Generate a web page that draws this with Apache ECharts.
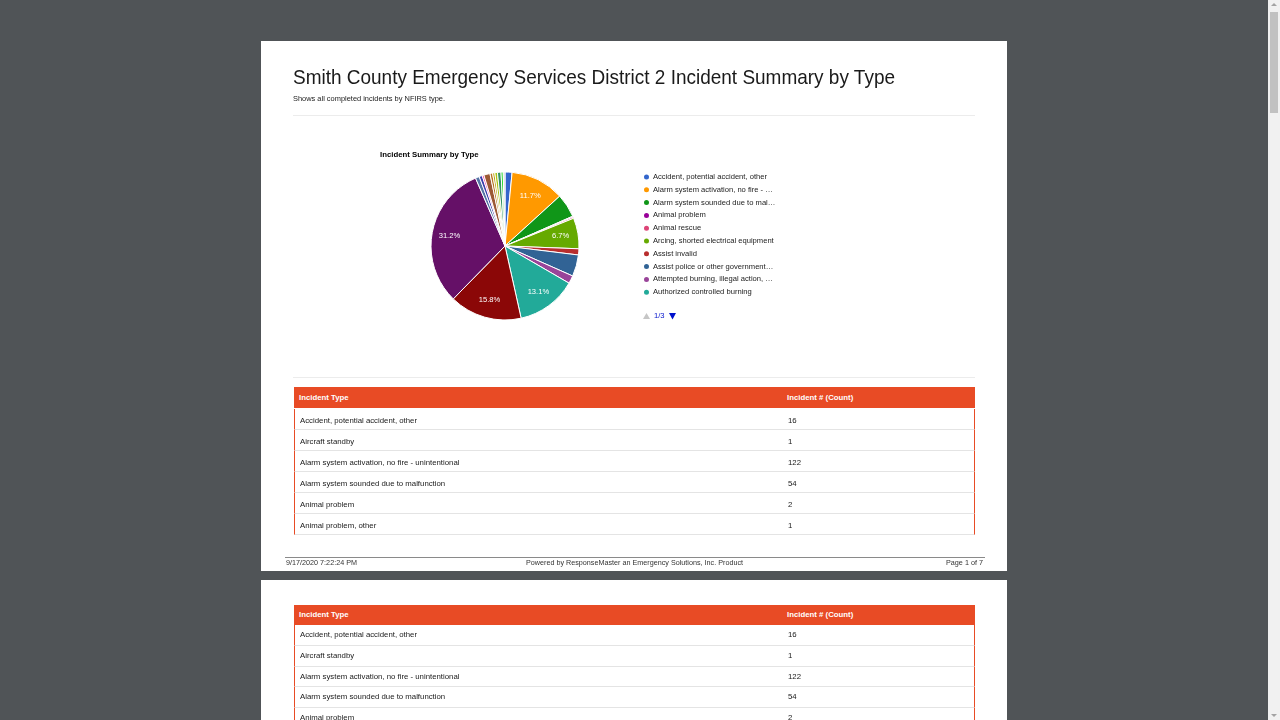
<!DOCTYPE html>
<html><head><meta charset="utf-8">
<script src="https://cdn.jsdelivr.net/npm/echarts@6/dist/echarts.min.js"></script>
<style>
html,body{margin:0;padding:0;width:1280px;height:720px;overflow:hidden;background:#505457;font-family:"Liberation Sans",Arial,Helvetica,sans-serif;}
.abs{position:absolute;white-space:nowrap;}
.page{position:absolute;left:261px;width:746px;background:#fff;overflow:hidden;}
.fit{transform-origin:0 50%;display:inline-block;filter:grayscale(1);}
.tbl{position:absolute;left:33px;width:681px;}
.thead{position:absolute;left:0;width:681px;background:#e84b25;color:#fff;font-weight:bold;font-size:7.8px;}
.trow{position:absolute;left:0;width:679px;border-left:1px solid #e84b25;border-right:1px solid #e84b25;border-bottom:1px solid #e4e4e4;color:#1a1a1a;font-size:7.8px;box-sizing:content-box;}
.trow span{filter:grayscale(1);}
.c1{position:absolute;left:5px;}
.c2{position:absolute;left:493px;}
</style>
</head>
<body>
<script>
// ---- data ----
const chartTitle = 'Incident Summary by Type';
const sliceNames = [
  'Accident, potential accident, other',
  'Alarm system activation, no fire - unintentional',
  'Alarm system sounded due to malfunction',
  'Animal problem',
  'Animal rescue',
  'Arcing, shorted electrical equipment',
  'Assist invalid',
  'Assist police or other governmental agency',
  'Attempted burning, illegal action, other',
  'Authorized controlled burning',
  'Dispatched & cancelled en route',
  'EMS call, excluding vehicle accident with injury',
  'Extrication of victim(s) from vehicle',
  'False alarm or false call, other',
  'Gas leak (natural gas or LPG)',
  'Good intent call, other',
  'Grass fire',
  'Hazardous condition, other',
  'Medical assist, assist EMS crew',
  'Motor vehicle accident with injuries',
  'Motor vehicle accident with no injuries',
  'Other'
];
const sliceCounts = [16, 122, 54, 2, 3, 70, 14, 49, 18, 137, 165, 325, 9, 7, 4, 14, 6, 5, 6, 8, 5, 4];
const sliceColors = ['#3366cc','#ff9900','#109618','#990099','#dd4477','#66aa00','#b82e2e','#316395','#994499','#22aa99',
  '#8b0707','#651067','#5574a6','#3b3eac','#f4359e','#9c5935','#b77322','#bea413','#a9c413','#329262','#16d620','#cccccc'];
const legendPageSize = 10;
const tableHeaders = ['Incident Type', 'Incident # (Count)'];
const tableTypes = ['Accident, potential accident, other','Aircraft standby','Alarm system activation, no fire - unintentional',
  'Alarm system sounded due to malfunction','Animal problem','Animal problem, other'];
const tableCounts = [16, 1, 122, 54, 2, 1];
</script>

<!-- page 1 -->
<div class="page" id="p1" style="top:41px;height:530px;">
  <div class="abs" style="left:32px;top:24px;font-size:21px;line-height:24px;color:#1a1a1a;"><span class="fit" data-w="602">Smith County Emergency Services District 2 Incident Summary by Type</span></div>
  <div class="abs" style="left:32px;top:53px;font-size:7.5px;line-height:9px;color:#222;"><span class="fit" data-w="152">Shows all completed incidents by NFIRS type.</span></div>
  <div class="abs" style="left:32px;top:74px;width:682px;height:1px;background:#ececec;"></div>
  <div id="chart" class="abs" style="left:0;top:80px;width:746px;height:254px;"></div>
  <div class="abs" style="left:32px;top:336px;width:682px;height:1px;background:#ececec;"></div>
  <div id="t1wrap" class="abs" style="left:0;top:0;width:746px;height:494px;overflow:hidden;"></div>
  <div class="abs" style="left:24px;top:516px;width:700px;height:1px;background:#8a8a8a;"></div>
  <div class="abs" style="left:25px;top:517px;font-size:7.5px;line-height:9px;color:#333;"><span class="fit" data-w="71">9/17/2020 7:22:24 PM</span></div>
  <div class="abs" style="left:265px;top:517px;font-size:7.5px;line-height:9px;color:#333;"><span class="fit" data-w="217">Powered by ResponseMaster an Emergency Solutions, Inc. Product</span></div>
  <div class="abs" style="left:685px;top:517px;font-size:7.5px;line-height:9px;color:#333;"><span class="fit" data-w="37">Page 1 of 7</span></div>
</div>
<!-- page 2 -->
<div class="page" id="p2" style="top:580px;height:140px;"></div>

<!-- scrollbar -->
<div class="abs" style="left:1268px;top:0;width:12px;height:720px;background:#f1f1f1;"></div>
<div class="abs" style="left:1270px;top:12px;width:8px;height:101px;background:#c1c1c1;"></div>
<div class="abs" style="left:1271px;top:3px;width:0;height:0;border-left:3px solid transparent;border-right:3px solid transparent;border-bottom:3px solid #a3a3a3;"></div>
<div class="abs" style="left:1271px;top:714px;width:0;height:0;border-left:3px solid transparent;border-right:3px solid transparent;border-top:3px solid #a3a3a3;"></div>

<script>
// tables
function buildTable(container, top, headH, gap, rowH, textDy) {
  const t = document.createElement('div');
  t.className = 'tbl';
  t.style.top = top + 'px';
  let html = '<div class="thead" style="top:0;height:' + headH + 'px;line-height:' + headH + 'px;"><span class="c1">' + tableHeaders[0] + '</span><span class="c2">' + tableHeaders[1] + '</span></div>';
  for (let i = 0; i < tableTypes.length; i++) {
    html += '<div class="trow" style="top:' + (headH + gap + i * rowH) + 'px;height:' + (rowH - 1) + 'px;line-height:' + (rowH - 1) + 'px;">' +
      '<span class="c1" style="top:' + textDy + 'px">' + tableTypes[i] + '</span><span class="c2" style="top:' + textDy + 'px">' + tableCounts[i] + '</span></div>';
  }
  t.innerHTML = html;
  container.appendChild(t);
}
buildTable(document.getElementById('t1wrap'), 346, 21, 1, 21, 1.5);
buildTable(document.getElementById('p2'), 25, 20, 0, 20.75, 0);

// fit text widths
document.querySelectorAll('.fit').forEach(function (el) {
  const w = el.getBoundingClientRect().width;
  const target = parseFloat(el.getAttribute('data-w'));
  if (w > 0) el.style.transform = 'scaleX(' + (target / w) + ')';
});

// chart
const chart = echarts.init(document.getElementById('chart'));
const total = sliceCounts.reduce(function (a, b) { return a + b; }, 0);
const pieData = sliceNames.map(function (n, i) {
  return { name: n, value: sliceCounts[i], itemStyle: { color: sliceColors[i] } };
});
const labelData = sliceNames.map(function (n, i) {
  return { name: n, value: sliceCounts[i] };
});
const pageCount = Math.ceil(sliceNames.length / legendPageSize);
const FONT = '"Liberation Sans", Arial, sans-serif';
chart.setOption({
  animation: false,
  title: {
    text: chartTitle, left: 114, top: 25,
    textStyle: { fontSize: 7.8, fontWeight: 'bold', color: '#000', fontFamily: FONT }
  },
  legend: {
    type: 'plain', orient: 'vertical', left: 376, top: 46,
    icon: 'circle', itemWidth: 7, itemHeight: 7, itemGap: 2.8,
    data: sliceNames.slice(0, legendPageSize),
    textStyle: { fontSize: 7.6, color: '#222', lineHeight: 10, fontFamily: FONT, width: 124, overflow: 'truncate', ellipsis: '…', padding: [0, 0, 0, -2] },
    selectedMode: false
  },
  graphic: [
    { type: 'polygon', silent: true, shape: { points: [[382, 198], [389, 198], [385.5, 192]] }, style: { fill: '#c6c6c6' } },
    { type: 'text', silent: true, x: 393, y: 195, style: { text: '1/' + pageCount, fill: '#0011cc', fontSize: 7.6, fontFamily: FONT, verticalAlign: 'middle' } },
    { type: 'polygon', silent: true, shape: { points: [[408, 192], [415, 192], [411.5, 198.5]] }, style: { fill: '#0011cc' } }
  ],
  series: [
    {
      type: 'pie', radius: [0, 74], center: [244, 125], startAngle: 90, clockwise: true,
      data: pieData, label: { show: false }, labelLine: { show: false },
      itemStyle: { borderColor: '#ffffff', borderWidth: 1 },
      emphasis: { disabled: true }, silent: true
    },
    {
      type: 'pie', radius: [33, 74], center: [244, 125], startAngle: 90, clockwise: true,
      data: labelData, silent: true, legendHoverLink: false,
      itemStyle: { color: 'rgba(0,0,0,0)' },
      label: {
        show: true, position: 'inner', color: '#fff', fontSize: 7.6, fontFamily: FONT,
        formatter: function (p) {
          const pct = p.value / total * 100;
          return pct >= 6 ? pct.toFixed(1) + '%' : '';
        }
      },
      labelLine: { show: false }, emphasis: { disabled: true }
    }
  ]
});
</script>
</body></html>
